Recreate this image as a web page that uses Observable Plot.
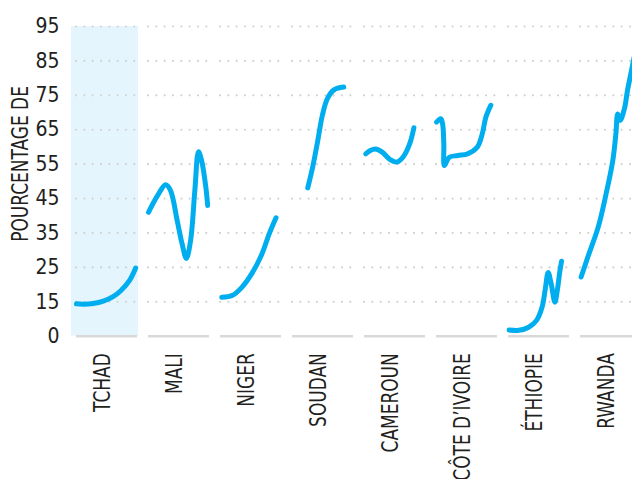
<!DOCTYPE html>
<html><head><meta charset="utf-8">
<script src="https://cdn.jsdelivr.net/npm/d3@7"></script>
<script src="https://cdn.jsdelivr.net/npm/@observablehq/plot@0.6"></script>
<style>
html,body{margin:0;padding:0;background:#fff;overflow:hidden;}
</style></head><body><div id="chart"></div>
<script>
const countries = ["TCHAD","MALI","NIGER","SOUDAN","CAMEROUN","CÔTE D’IVOIRE","ÉTHIOPIE","RWANDA"];
const highlighted = "TCHAD";
const yTicks = [5,15,25,35,45,55,65,75,85,95];
const yTickLabels = ["0","15","25","35","45","55","65","75","85","95"];
const yLabel = "POURCENTAGE DE";

// t = position within the observed period (0–100), v = percentage
const tchadT = [0, 11, 27, 44, 60, 73, 87, 97];
const tchadV = [14.4, 14.3, 14.5, 15.2, 16.5, 18.3, 21.2, 24.8];
const maliT = [0, 15, 28, 36, 47, 55, 62, 69, 76, 82, 87, 94, 97];
const maliV = [41.0, 45.9, 49.0, 47.4, 38.6, 31.9, 27.6, 32.8, 47.4, 58.6, 56.1, 48.3, 43.0];
const nigerT = [2, 19, 35, 51, 67, 80, 91];
const nigerV = [16.3, 16.8, 19.2, 23.1, 28.5, 34.8, 39.4];
const soudanT = [25, 33, 41, 49, 57, 68, 84];
const soudanV = [48.1, 54.1, 61.4, 69.2, 74.0, 76.6, 77.4];
const camerounT = [2, 10, 18, 29, 42, 53, 63, 74, 81];
const camerounV = [58.0, 59.0, 59.4, 58.5, 56.3, 55.6, 57.0, 60.9, 65.6];
const coteT = [0, 7, 10, 12, 13, 21, 35, 51, 67, 75, 81, 89];
const coteV = [67.2, 68.2, 66.7, 60.9, 54.6, 57.0, 57.5, 58.0, 60.0, 63.8, 68.7, 72.1];
const ethiopieT = [1, 17, 33, 46, 55, 60, 65, 70, 76, 80, 84, 87];
const ethiopieV = [6.8, 6.7, 7.6, 9.6, 13.4, 18.3, 23.5, 20.2, 14.9, 18.3, 23.6, 26.8];
const rwandaT = [1, 12, 29, 42, 53, 58, 61, 65, 72, 77, 82, 89];
const rwandaV = [22.2, 28.0, 36.7, 46.4, 56.1, 63.8, 69.6, 67.7, 71.1, 76.4, 80.8, 87.0];

const seriesT = [tchadT, maliT, nigerT, soudanT, camerounT, coteT, ethiopieT, rwandaT];
const seriesV = [tchadV, maliV, nigerV, soudanV, camerounV, coteV, ethiopieV, rwandaV];
const data = countries.flatMap((c, i) => seriesT[i].map((t, j) => ({country: c, t, v: seriesV[i][j]})));

const FONT = "'Liberation Sans Narrow', 'DejaVu Sans Condensed', 'Roboto', sans-serif";

const plot = Plot.plot({
  width: 632, height: 479,
  marginLeft: 73, marginRight: 0, marginTop: 26, marginBottom: 143.3,
  style: {fontFamily: FONT, fontSize: "21px", color: "#231f20", background: "#fff"},
  fx: {domain: countries, range: [73, 644.25], paddingInner: 0.148, paddingOuter: 0, label: null},
  x: {domain: [0, 100], axis: null},
  y: {domain: [5, 95], axis: null},
  marks: [
    Plot.rect([highlighted], {fx: d => d, x1: 0, x2: 100, y1: 5, y2: 95, fill: "#e5f5fd", insetLeft: -5, insetRight: -1}),
    Plot.gridY(yTicks.slice(1), {stroke: "#d2d2d2", strokeOpacity: 1, strokeWidth: 2.2, strokeDasharray: "0,8.33", strokeLinecap: "round"}),
    Plot.ruleY([yTicks[0]], {stroke: "#d9d9d9", strokeWidth: 2.5}),
    Plot.line(data, {fx: "country", x: "t", y: "v", curve: "catmull-rom", stroke: "#00aeef", strokeWidth: 5, strokeLinecap: "round", strokeLinejoin: "round"}),
    Plot.axisY(yTicks, {tickSize: 0, tickPadding: 17, tickFormat: d => yTickLabels[yTicks.indexOf(d)], fontSize: 21, label: null}),
    Plot.axisFx({anchor: "bottom", tickRotate: -90, tickSize: 0, tickPadding: 17, fontSize: 22.5, label: null, dx: -4.5}),
    Plot.text([highlighted], {fx: d => d, text: () => yLabel, frameAnchor: "left", rotate: -90, textAnchor: "middle", lineAnchor: "middle", dx: -56, dy: -17.4, fontSize: 22.5, fill: "#231f20"})
  ]
});
document.getElementById("chart").append(plot);

// the reference uses a condensed face: narrow the label glyphs to match
const squeeze = 0.84;
plot.querySelectorAll("text").forEach(t => {
  const s = t.textContent;
  if (countries.includes(s) || s === yLabel) {
    const L = t.getComputedTextLength();
    t.setAttribute("textLength", (L * squeeze).toFixed(1));
    t.setAttribute("lengthAdjust", "spacingAndGlyphs");
  }
});
</script></body></html>
